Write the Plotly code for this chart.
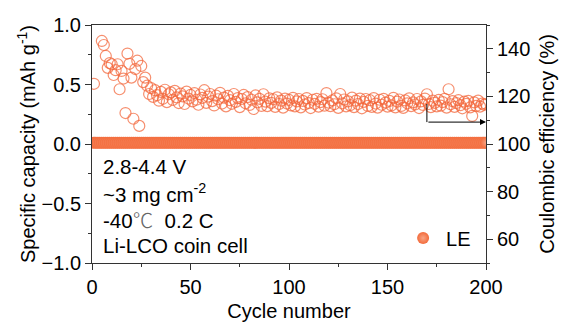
import plotly.graph_objects as go

cycles = list(range(1, 201))

# Specific capacity (mAh g-1), left axis
capacity = [
    0.01, 0.01, 0.01, 0.01, 0.01, 0.01, 0.01, 0.01, 0.01, 0.01,
    0.01, 0.01, 0.01, 0.01, 0.01, 0.01, 0.01, 0.01, 0.01, 0.01,
    0.01, 0.01, 0.01, 0.01, 0.01, 0.01, 0.01, 0.01, 0.01, 0.01,
    0.01, 0.01, 0.01, 0.01, 0.01, 0.01, 0.01, 0.01, 0.01, 0.01,
    0.01, 0.01, 0.01, 0.01, 0.01, 0.01, 0.01, 0.01, 0.01, 0.01,
    0.01, 0.01, 0.01, 0.01, 0.01, 0.01, 0.01, 0.01, 0.01, 0.01,
    0.01, 0.01, 0.01, 0.01, 0.01, 0.01, 0.01, 0.01, 0.01, 0.01,
    0.01, 0.01, 0.01, 0.01, 0.01, 0.01, 0.01, 0.01, 0.01, 0.01,
    0.01, 0.01, 0.01, 0.01, 0.01, 0.01, 0.01, 0.01, 0.01, 0.01,
    0.01, 0.01, 0.01, 0.01, 0.01, 0.01, 0.01, 0.01, 0.01, 0.01,
    0.01, 0.01, 0.01, 0.01, 0.01, 0.01, 0.01, 0.01, 0.01, 0.01,
    0.01, 0.01, 0.01, 0.01, 0.01, 0.01, 0.01, 0.01, 0.01, 0.01,
    0.01, 0.01, 0.01, 0.01, 0.01, 0.01, 0.01, 0.01, 0.01, 0.01,
    0.01, 0.01, 0.01, 0.01, 0.01, 0.01, 0.01, 0.01, 0.01, 0.01,
    0.01, 0.01, 0.01, 0.01, 0.01, 0.01, 0.01, 0.01, 0.01, 0.01,
    0.01, 0.01, 0.01, 0.01, 0.01, 0.01, 0.01, 0.01, 0.01, 0.01,
    0.01, 0.01, 0.01, 0.01, 0.01, 0.01, 0.01, 0.01, 0.01, 0.01,
    0.01, 0.01, 0.01, 0.01, 0.01, 0.01, 0.01, 0.01, 0.01, 0.01,
    0.01, 0.01, 0.01, 0.01, 0.01, 0.01, 0.01, 0.01, 0.01, 0.01,
    0.01, 0.01, 0.01, 0.01, 0.01, 0.01, 0.01, 0.01, 0.01, 0.01,
]

# Coulombic efficiency (%), right axis
efficiency = [
    125.3, None, None, None, 143.3, 141.6, 137.0, 132.0, 134.0, 133.5,
    129.0, 131.0, 133.5, 123.0, 130.7, 127.5, 113.0, 138.0, 133.7, 127.9,
    110.6, 131.5, 135.0, 107.6, 132.8, 126.0, 127.9, 124.5, 121.0, 123.5,
    119.8, 122.6, 120.5, 118.2, 121.9, 119.0, 122.8, 117.6, 120.9, 121.7,
    118.5, 122.3, 119.6, 117.2, 121.2, 120.0, 116.8, 122.0, 119.1, 120.6,
    117.9, 121.4, 118.6, 116.5, 120.8, 119.4, 122.6, 117.3, 119.9, 121.0,
    118.0, 116.2, 120.3, 118.8, 121.5, 117.0, 119.5, 115.8, 120.2, 118.4,
    116.9, 121.0, 117.7, 119.3, 115.5, 118.9, 120.6, 117.1, 119.7, 116.4,
    118.6, 114.7, 120.4, 117.5, 119.0, 116.0, 120.9, 117.8, 115.9, 119.2,
    117.3, 118.8, 115.6, 119.6, 116.8, 118.2, 115.3, 119.1, 117.0, 118.5,
    116.2, 119.4, 115.8, 117.9, 118.9, 115.4, 118.1, 116.6, 119.3, 117.2,
    115.1, 118.6, 116.9, 119.0, 115.7, 117.6, 118.8, 116.1, 121.4, 117.4,
    115.9, 118.3, 116.7, 119.2, 115.2, 121.0, 117.1, 118.7, 115.8, 117.9,
    116.3, 119.5, 115.5, 118.2, 116.8, 119.1, 115.0, 117.7, 118.9, 116.0,
    118.4, 115.6, 119.3, 117.0, 115.3, 118.6, 116.5, 119.0, 117.4, 115.7,
    118.1, 116.2, 119.4, 115.4, 117.8, 118.7, 116.0, 115.2, 118.3, 117.1,
    119.2, 115.9, 117.5, 116.6, 118.9, 115.1, 117.9, 116.4, 119.1, 120.9,
    116.8, 115.5, 118.2, 117.3, 115.8, 118.5, 116.1, 117.6, 119.0, 115.3,
    123.0, 116.7, 118.0, 115.6, 117.2, 118.4, 116.3, 115.0, 117.8, 116.9,
    118.1, 115.4, 111.8, 117.5, 116.0, 118.2, 115.7, 117.0, 116.5, 116.8,
]

FONT = "Arial, Liberation Sans, sans-serif"
ORANGE = "#F36B3B"
FS = 20

fig = go.Figure()

fig.add_trace(go.Scatter(
    x=cycles, y=efficiency, yaxis="y2", mode="markers", showlegend=False,
    marker=dict(symbol="circle-open", size=11, color="rgba(242,100,55,0.72)",
                line=dict(width=1.2)),
    cliponaxis=True,
))

fig.add_trace(go.Scatter(
    x=cycles, y=capacity, mode="markers", name="LE",
    marker=dict(symbol="circle", size=12, color=ORANGE,
                gradient=dict(type="radial", color="#F8A585"),
                line=dict(width=0)),
))

# arrow indicating right axis
fig.add_shape(type="line", xref="x", yref="y2", x0=170, x1=170, y0=116.8, y1=109.2,
              line=dict(color="black", width=1))
fig.add_annotation(x=200, y=109.2, ax=170, ay=109.2, xref="x", yref="y2",
                   axref="x", ayref="y2", text="", showarrow=True,
                   arrowhead=2, arrowsize=1.2, arrowwidth=1, arrowcolor="black")

labels = ["2.8-4.4 V", "~3 mg cm<sup>-2</sup>",
          "-40<span style=\"font-family:'Noto Sans CJK SC';font-weight:300;color:#666\">℃</span>  0.2 C",
          "Li-LCO coin cell"]
for i, t in enumerate(labels):
    fig.add_annotation(x=0.022, y=-0.19 - i * 0.222, xref="paper", yref="y",
                       text=t, showarrow=False, xanchor="left", yanchor="middle",
                       font=dict(size=20.5, color="black", family=FONT))

axis_common = dict(
    showline=True, linecolor="#333", linewidth=1, ticks="outside", ticklen=6,
    tickcolor="#333", showgrid=False, zeroline=False, automargin=False,
    tickfont=dict(size=FS, color="black", family=FONT),
)

fig.update_layout(
    width=563, height=323,
    margin=dict(l=92, r=77, t=25, b=60),
    plot_bgcolor="white", paper_bgcolor="white",
    font=dict(family=FONT, size=FS, color="black"),
    xaxis=dict(range=[0, 200], tickvals=[0, 50, 100, 150, 200], mirror=True,
               minor=dict(ticks="outside", ticklen=3, tickcolor="#333", dtick=25),
               title=dict(text="Cycle number", font=dict(size=FS), standoff=6),
               **axis_common),
    yaxis=dict(range=[-1.0, 1.0], tickvals=[-1.0, -0.5, 0.0, 0.5, 1.0], tickformat=".1f",
               minor=dict(ticks="outside", ticklen=3, tickcolor="#333", dtick=0.25),
               title=dict(text="Specific capacity (mAh g<sup>-1</sup>)", font=dict(size=FS),
                          standoff=0),
               **axis_common),
    yaxis2=dict(range=[50, 150], overlaying="y", side="right",
                tickvals=[60, 80, 100, 120, 140],
                minor=dict(ticks="outside", ticklen=3, tickcolor="#333", dtick=10),
                title=dict(text="Coulombic efficiency (%)", font=dict(size=FS), standoff=10),
                **axis_common),
    legend=dict(x=0.782, y=0.105, xanchor="left", yanchor="middle", itemwidth=36,
                bgcolor="rgba(0,0,0,0)", font=dict(size=FS, family=FONT)),
)

fig.write_html("out.html")
